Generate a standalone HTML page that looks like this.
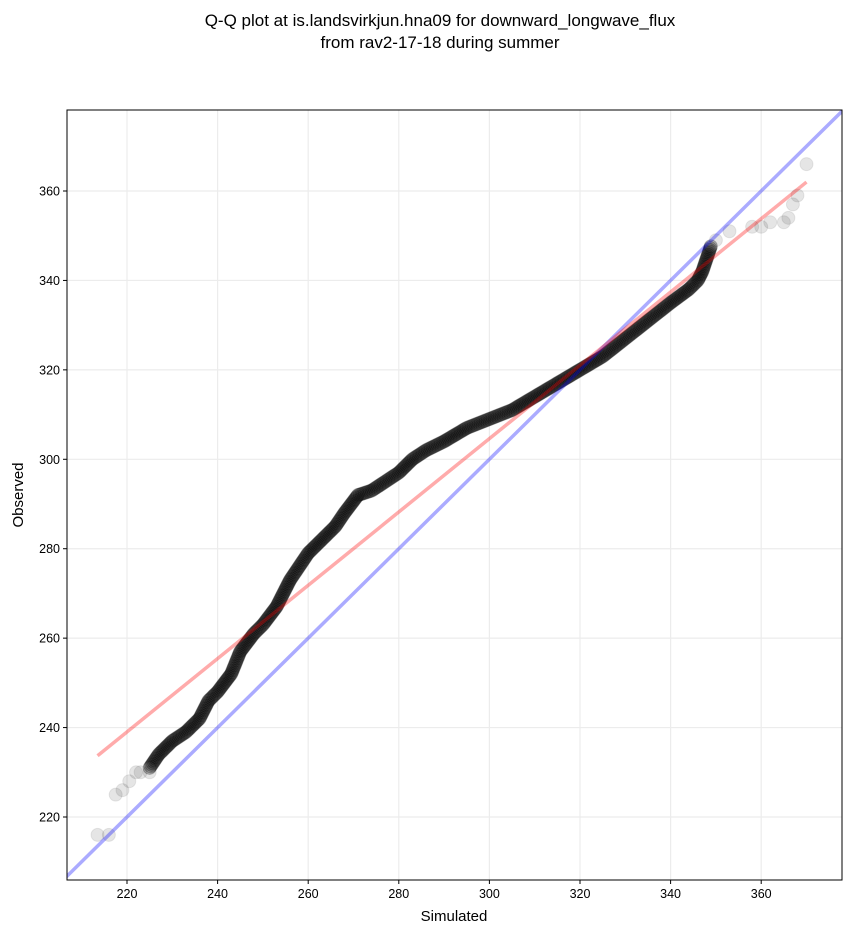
<!DOCTYPE html>
<html><head><meta charset="utf-8"><style>body{margin:0;background:#fff}svg{display:block}text{font-family:"Liberation Sans","DejaVu Sans",sans-serif}</style></head>
<body>
<svg id="s" width="851" height="934" xmlns="http://www.w3.org/2000/svg">
<text x="440" y="26" font-size="17" text-anchor="middle">Q-Q plot at is.landsvirkjun.hna09 for downward_longwave_flux</text>
<text x="440" y="48" font-size="17" text-anchor="middle">from rav2-17-18 during summer</text>
<defs><clipPath id="c"><rect x="67" y="110" width="775" height="770"/></clipPath></defs>
<g id="grid" stroke="#ececec" stroke-width="1.2"></g>
<g id="pts" clip-path="url(#c)"></g>
<g id="lines" clip-path="url(#c)"></g>
<rect x="67" y="110" width="775" height="770" fill="none" stroke="#000" stroke-width="1"/>
<g id="ticks" font-size="12.5"></g>
<text x="454" y="921" font-size="15" text-anchor="middle">Simulated</text>
<text x="23" y="495" font-size="15" text-anchor="middle" transform="rotate(-90 23 495)">Observed</text>
</svg>
<script>
var NS="http://www.w3.org/2000/svg";
function X(v){return 127+(v-220)*4.53;}
function Y(v){return 817-(v-220)*4.4714;}
function el(p,t,a){var e=document.createElementNS(NS,t);for(var k in a)e.setAttribute(k,a[k]);document.getElementById(p).appendChild(e);return e;}
for(var v=220;v<=360;v+=20){
 el("grid","line",{x1:X(v),x2:X(v),y1:110,y2:880});
 el("grid","line",{y1:Y(v),y2:Y(v),x1:67,x2:842});
 el("ticks","line",{x1:X(v),x2:X(v),y1:880,y2:884,stroke:"#000"});
 el("ticks","line",{x1:63,x2:67,y1:Y(v),y2:Y(v),stroke:"#000"});
 var t=el("ticks","text",{x:X(v),y:898,"text-anchor":"middle"});t.textContent=v;
 t=el("ticks","text",{x:60,y:Y(v)+4.5,"text-anchor":"end"});t.textContent=v;
}
var K=[[225,231],[227,234],[230,237],[233,239],[236,242],[238,246],[240,248],[243,252],[245,257],[248,261],[250,263],[253,267],[256,273],[258,276],[260,279],[263,282],[266,285],[268,288],[271,292],[274,293],[277,295],[280,297],[283,300],[286,302],[290,304],[295,307],[300,309],[305,311],[310,314],[315,317],[320,320],[325,323],[330,327],[335,331],[340,335],[344,338],[346,340],[347,342],[348,345],[349,348]];
var P=[[213.5,216],[216,216],[217.5,225],[219,226],[220.5,228],[222,230],[223,230],[225,230],[350,349],[353,351],[358,352],[360,352],[362,353],[365,353],[366,354],[367,357],[368,359],[370,366]];
for(var i=0;i<K.length-1;i++){var a=K[i],b=K[i+1];var n=Math.max(2,Math.round(Math.hypot(b[0]-a[0],b[1]-a[1])*2.5));
 for(var j=0;j<n;j++){var f=j/n;P.push([a[0]+(b[0]-a[0])*f,a[1]+(b[1]-a[1])*f]);}}
P.forEach(function(p,k){var tail=k<18;el("pts","circle",{cx:X(p[0]),cy:Y(p[1]),r:6.5,fill:"#000","fill-opacity":tail?0.1:0.22,stroke:"#000","stroke-opacity":tail?0.08:0.25,"stroke-width":1});});
el("lines","line",{x1:X(200),y1:Y(200),x2:X(380),y2:Y(380),stroke:"#0000ff","stroke-opacity":0.33,"stroke-width":3.5});
el("lines","line",{x1:X(213.5),y1:Y(233.7),x2:X(370),y2:Y(362),stroke:"#ff0000","stroke-opacity":0.33,"stroke-width":3.5});
</script>
</body></html>
